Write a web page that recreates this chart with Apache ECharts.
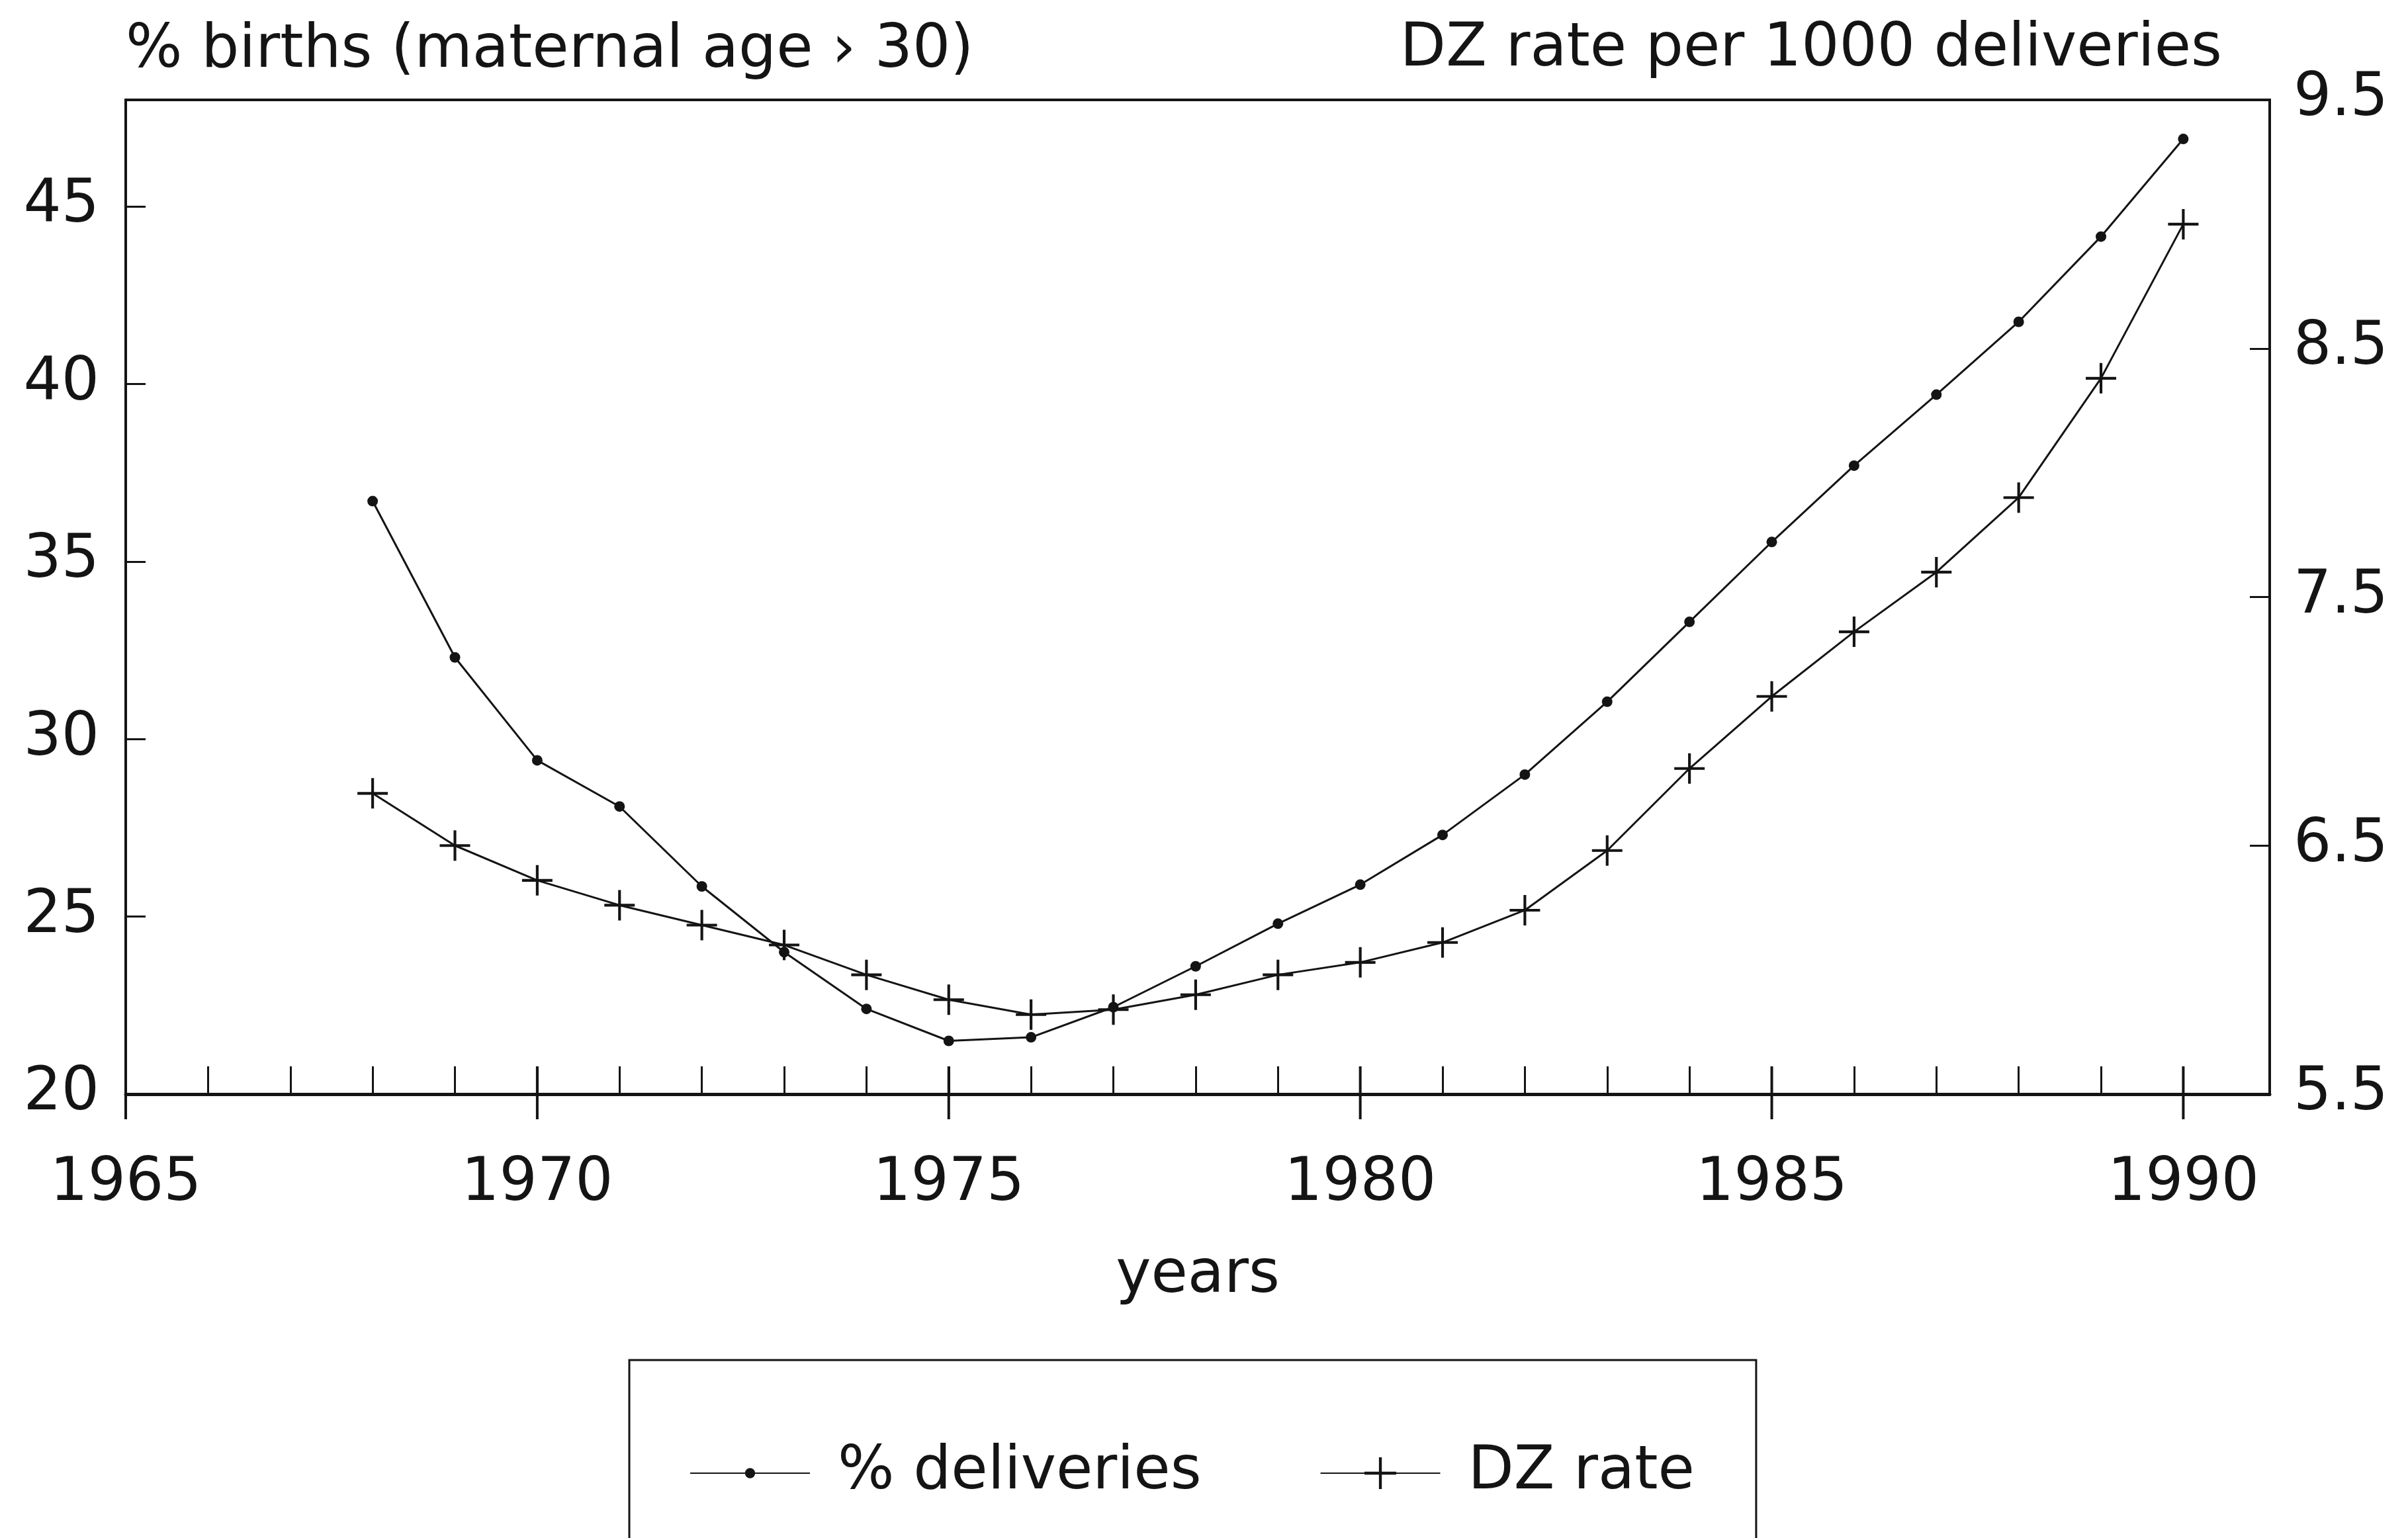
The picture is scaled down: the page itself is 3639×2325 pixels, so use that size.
<!DOCTYPE html>
<html>
<head>
<meta charset="utf-8">
<script src="https://cdn.jsdelivr.net/npm/echarts@6/dist/echarts.min.js"></script>
<style>
html,body{margin:0;padding:0;background:#fff;}
#c{width:3639px;height:2325px;}
</style>
</head>
<body>
<div id="c"></div>
<script>
// ---- data ----
const years = [1968,1969,1970,1971,1972,1973,1974,1975,1976,1977,1978,1979,1980,1981,1982,1983,1984,1985,1986,1987,1988,1989,1990];
const pctDeliveries = [36.7,32.3,29.4,28.1,25.85,24.0,22.4,21.5,21.6,22.45,23.6,24.8,25.9,27.3,29.0,31.05,33.3,35.55,37.7,39.7,41.75,44.15,46.9];
const dzRate = [6.71,6.50,6.36,6.26,6.18,6.10,5.98,5.88,5.82,5.84,5.90,5.98,6.03,6.11,6.24,6.48,6.81,7.10,7.36,7.60,7.90,8.38,9.00];
const xLabelYears = [1965,1970,1975,1980,1985,1990];
const xTickYears = [1966,1967,1968,1969,1970,1971,1972,1973,1974,1975,1976,1977,1978,1979,1980,1981,1982,1983,1984,1985,1986,1987,1988,1989,1990];
const leftTicks = [20,25,30,35,40,45];
const rightTicks = [5.5,6.5,7.5,8.5,9.5];
const seriesNames = ['% deliveries','DZ rate'];
const leftTitle = '% births (maternal age \u203A 30)';
const rightTitle = 'DZ rate per 1000 deliveries';
const xTitle = 'years';

const FONT = 'DejaVu Sans';
const INK = '#141414';
const FS = 90;
const X_MIN = 1965, X_MAX = 1991.05, Y_MIN = 20, Y_MAX = 48;
const DOT = 'path://M-5,-5M5,5M-1.6,0A1.6,1.6 0 1,0 1.6,0A1.6,1.6 0 1,0 -1.6,0Z';
const PLUS = 'path://M-0.45,-5L0.45,-5L0.45,-0.45L5,-0.45L5,0.45L0.45,0.45L0.45,5L-0.45,5L-0.45,0.45L-5,0.45L-5,-0.45L-0.45,-0.45Z';

const chart = echarts.init(document.getElementById('c'), null, {renderer: 'canvas'});
const txt = {fontFamily: FONT, fontSize: FS, color: INK, fontWeight: 'normal'};
const yearFmt = function (v) { return String(Math.round(v)); };

chart.setOption({
  animation: false,
  backgroundColor: '#fff',
  textStyle: {fontFamily: FONT, color: INK},
  title: [
    {text: leftTitle, left: 190, top: 33, padding: 0, textStyle: txt},
    {text: rightTitle, right: 281, top: 31, padding: 0, textStyle: txt}
  ],
  grid: {left: 190, right: 209, top: 151, bottom: 671, show: true, borderColor: INK, borderWidth: 4, backgroundColor: 'transparent'},
  legend: {
    show: true, left: 951, top: 2056, orient: 'horizontal',
    itemWidth: 181, itemHeight: 60, itemGap: 179,
    padding: [126, 93, 300, 91],
    borderColor: INK, borderWidth: 3,
    selectedMode: false,
    textStyle: Object.assign({}, txt, {padding: [0, 0, 0, 37], lineHeight: 60}),
    data: seriesNames
  },
  xAxis: {
    type: 'value', min: X_MIN, max: X_MAX, position: 'bottom',
    name: xTitle, nameLocation: 'middle', nameGap: 231, nameTextStyle: txt,
    axisLine: {show: true, onZero: false, lineStyle: {color: INK, width: 5}},
    axisTick: {show: true, inside: true, length: 42, customValues: xTickYears, lineStyle: {color: INK, width: 3}},
    axisLabel: {show: true, customValues: xLabelYears, formatter: yearFmt, margin: 92, fontFamily: FONT, fontSize: FS, color: INK},
    splitLine: {show: false}
  },
  yAxis: [
    {
      type: 'value', min: Y_MIN, max: Y_MAX, position: 'left',
      axisLine: {show: true, onZero: false, lineStyle: {color: INK, width: 3}},
      axisTick: {show: true, inside: true, length: 30, customValues: leftTicks, lineStyle: {color: INK, width: 3}},
      axisLabel: {show: true, customValues: leftTicks, margin: 40, fontFamily: FONT, fontSize: FS, color: INK},
      splitLine: {show: false}
    },
    {
      type: 'value', min: 5.5, max: 9.5, position: 'right',
      axisLine: {show: true, onZero: false, lineStyle: {color: INK, width: 3}},
      axisTick: {show: true, inside: true, length: 30, customValues: rightTicks, lineStyle: {color: INK, width: 3}},
      axisLabel: {show: true, customValues: rightTicks, margin: 36, fontFamily: FONT, fontSize: FS, color: INK,
                  formatter: function (v) { return Number(v).toFixed(1); }},
      splitLine: {show: false}
    }
  ],
  series: [
    {
      name: seriesNames[0], type: 'line', yAxisIndex: 0,
      data: years.map(function (y, i) { return [y, pctDeliveries[i]]; }),
      symbol: DOT, symbolSize: 50, showSymbol: true,
      lineStyle: {color: INK, width: 3}, itemStyle: {color: INK},
      emphasis: {disabled: true}
    },
    {
      name: seriesNames[1], type: 'line', yAxisIndex: 1,
      data: years.map(function (y, i) { return [y, dzRate[i]]; }),
      symbol: PLUS, symbolSize: 46, showSymbol: true,
      lineStyle: {color: INK, width: 3}, itemStyle: {color: INK},
      emphasis: {disabled: true}
    }
  ]
});

// major (5-year) x-axis ticks cross the axis line: draw the crossing bar through the axis scales
const yBase = chart.convertToPixel({yAxisIndex: 0}, Y_MIN);
const majorTickBars = [];
xLabelYears.forEach(function (yr) {
  const xp = chart.convertToPixel({xAxisIndex: 0}, yr);
  if (isFinite(xp) && isFinite(yBase)) {
    majorTickBars.push({
      type: 'rect', z: 100, silent: true,
      shape: {x: xp - 2, y: yBase - 42, width: 4, height: 42 + 38},
      style: {fill: INK}
    });
  }
});
chart.setOption({graphic: {elements: majorTickBars}});
</script>
</body>
</html>
